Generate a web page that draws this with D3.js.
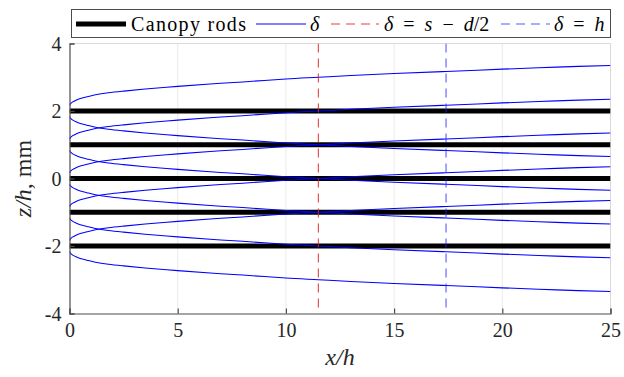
<!DOCTYPE html>
<html><head><meta charset="utf-8">
<script src="https://cdn.jsdelivr.net/npm/d3@7"></script>
<style>body{margin:0;background:#fff}svg{display:block}</style>
</head><body><svg id="c" width="624" height="377"></svg>
<script>
// ---- data ----
const rodPositions = [2, 1, 0, -1, -2];           // z/h of canopy rods
const xTicks = [0, 5, 10, 15, 20, 25];
const yTicks = [4, 2, 0, -2, -4];
const yTickLabels = ["4", "2", "0", "-2", "-4"];
// boundary-layer edge offset from each rod centre (z/h) vs x/h
const deltaX   = [0, 0.05, 0.15, 0.3, 0.5, 0.8, 1.2, 1.8, 2.5, 3.5, 5, 6.5, 8, 10, 11.5, 13, 15, 17.4, 20, 22.5, 25];
const deltaOff = [0.16, 0.22, 0.27, 0.32, 0.37, 0.42, 0.48, 0.54, 0.59, 0.65, 0.73, 0.80, 0.86, 0.95, 1.0, 1.05, 1.11, 1.17, 1.24, 1.30, 1.35];
const xDeltaSD = 11.5;   // δ = s − d/2
const xDeltaH  = 17.4;   // δ = h

const m = {l: 69.5, r: 610.5, t: 43.5, b: 313.5};
const svg = d3.select("#c");
const x = d3.scaleLinear().domain([0, 25]).range([m.l, m.r]);
const y = d3.scaleLinear().domain([-4, 4]).range([m.b, m.t]);
const serif = "Liberation Serif, DejaVu Serif, serif";

// grid
svg.append("g").selectAll("line").data(xTicks.slice(1, -1)).join("line")
  .attr("x1", d => x(d)).attr("x2", d => x(d)).attr("y1", m.t).attr("y2", m.b)
  .attr("stroke", "#ebebeb").attr("stroke-width", 1);
// box top/right
svg.append("line").attr("x1", m.l).attr("x2", m.r).attr("y1", m.t).attr("y2", m.t).attr("stroke", "#d9d9d9");
svg.append("line").attr("x1", m.r).attr("x2", m.r).attr("y1", m.t).attr("y2", m.b).attr("stroke", "#d9d9d9");

svg.append("defs").append("clipPath").attr("id", "clip").append("rect")
  .attr("x", m.l).attr("y", m.t).attr("width", m.r - m.l).attr("height", m.b - m.t);
const plot = svg.append("g").attr("clip-path", "url(#clip)");

// rods
plot.selectAll("line.rod").data(rodPositions).join("line").attr("class", "rod")
  .attr("x1", x(0)).attr("x2", x(25)).attr("y1", d => y(d)).attr("y2", d => y(d))
  .attr("stroke", "#000").attr("stroke-width", 5);

// delta curves
const line = d3.line().x(d => x(d[0])).y(d => y(d[1])).curve(d3.curveCatmullRom.alpha(0.5));
rodPositions.forEach(z => {
  [1, -1].forEach(s => {
    const pts = deltaX.map((xx, i) => [xx, z + s * deltaOff[i]]);
    plot.append("path").attr("d", line(pts)).attr("fill", "none")
      .attr("stroke", "#0000ff").attr("stroke-width", 1.1);
  });
});

// vertical dashed lines
plot.append("line").attr("x1", x(xDeltaSD)).attr("x2", x(xDeltaSD)).attr("y1", m.t).attr("y2", m.b)
  .attr("stroke", "#e02020").attr("stroke-opacity", 0.85).attr("stroke-width", 1.1).attr("stroke-dasharray", "9,6");
plot.append("line").attr("x1", x(xDeltaH)).attr("x2", x(xDeltaH)).attr("y1", m.t).attr("y2", m.b)
  .attr("stroke", "#2020ff").attr("stroke-opacity", 0.75).attr("stroke-width", 1.1).attr("stroke-dasharray", "9,6");

// axes
const xAxis = d3.axisBottom(x).tickValues(xTicks).tickSize(-5).tickPadding(9).tickFormat(d3.format("d"));
const gx = svg.append("g").attr("transform", `translate(0,${m.b})`).call(xAxis);
const yAxis = d3.axisLeft(y).tickValues(yTicks).tickSize(-5).tickPadding(8).tickFormat((d, i) => yTickLabels[i]);
const gy = svg.append("g").attr("transform", `translate(${m.l},0)`).call(yAxis);
[gx, gy].forEach(g => {
  g.attr("font-family", serif);
  g.select(".domain").attr("stroke", "#4d4d4d").attr("stroke-width", 1.2);
  g.selectAll(".tick line").attr("stroke", "#4d4d4d").attr("stroke-width", 1.2);
  g.selectAll(".tick text").attr("font-family", serif).attr("font-size", 20).attr("fill", "#262626");
});
gx.selectAll(".tick text").attr("dy", "0.71em");
gy.selectAll(".tick text").attr("dy", "0.34em");

// axis labels
svg.append("text").attr("x", x(12.5)).attr("y", 365).attr("text-anchor", "middle")
  .attr("font-family", serif).attr("font-size", 24).attr("fill", "#262626").attr("font-style", "italic")
  .text("x/h");
const yl = svg.append("text").attr("transform", `translate(31,${(m.t + m.b) / 2}) rotate(-90)`)
  .attr("text-anchor", "middle").attr("font-family", serif).attr("font-size", 24).attr("fill", "#262626");
yl.append("tspan").attr("font-style", "italic").text("z/h");
yl.append("tspan").text(", mm");

// legend
const lg = svg.append("g");
lg.append("rect").attr("x", 71.5).attr("y", 9.5).attr("width", 539).attr("height", 28)
  .attr("fill", "#fff").attr("stroke", "#4d4d4d").attr("stroke-width", 1);
const ly = 24, ty = 31;
lg.append("line").attr("x1", 76).attr("x2", 126).attr("y1", ly).attr("y2", ly).attr("stroke", "#000").attr("stroke-width", 5);
lg.append("text").attr("x", 131).attr("y", ty).attr("font-family", serif).attr("font-size", 20).attr("fill", "#000")
  .attr("textLength", 115).text("Canopy rods");
lg.append("line").attr("x1", 256).attr("x2", 306).attr("y1", ly).attr("y2", ly).attr("stroke", "#0000ff").attr("stroke-width", 1.1);
lg.append("text").attr("x", 310).attr("y", ty).attr("font-family", serif).attr("font-size", 20).attr("font-style", "italic").text("δ");
lg.append("line").attr("x1", 331).attr("x2", 379).attr("y1", ly).attr("y2", ly).attr("stroke", "#e02020").attr("stroke-opacity", 0.85)
  .attr("stroke-width", 1.1).attr("stroke-dasharray", "9,6");
const t3 = lg.append("text").attr("x", 384).attr("y", ty).attr("font-family", serif).attr("font-size", 20)
  .attr("word-spacing", 5);
t3.append("tspan").attr("font-style", "italic").text("δ");
t3.append("tspan").text(" = ");
t3.append("tspan").attr("font-style", "italic").text("s");
t3.append("tspan").text(" − ");
t3.append("tspan").attr("font-style", "italic").text("d");
t3.append("tspan").text("/2");
lg.append("line").attr("x1", 501).attr("x2", 550).attr("y1", ly).attr("y2", ly).attr("stroke", "#2020ff").attr("stroke-opacity", 0.75)
  .attr("stroke-width", 1.1).attr("stroke-dasharray", "9,6");
const t4 = lg.append("text").attr("x", 554).attr("y", ty).attr("font-family", serif).attr("font-size", 20)
  .attr("word-spacing", 5);
t4.append("tspan").attr("font-style", "italic").text("δ");
t4.append("tspan").text(" = ");
t4.append("tspan").attr("font-style", "italic").text("h");
</script></body></html>
